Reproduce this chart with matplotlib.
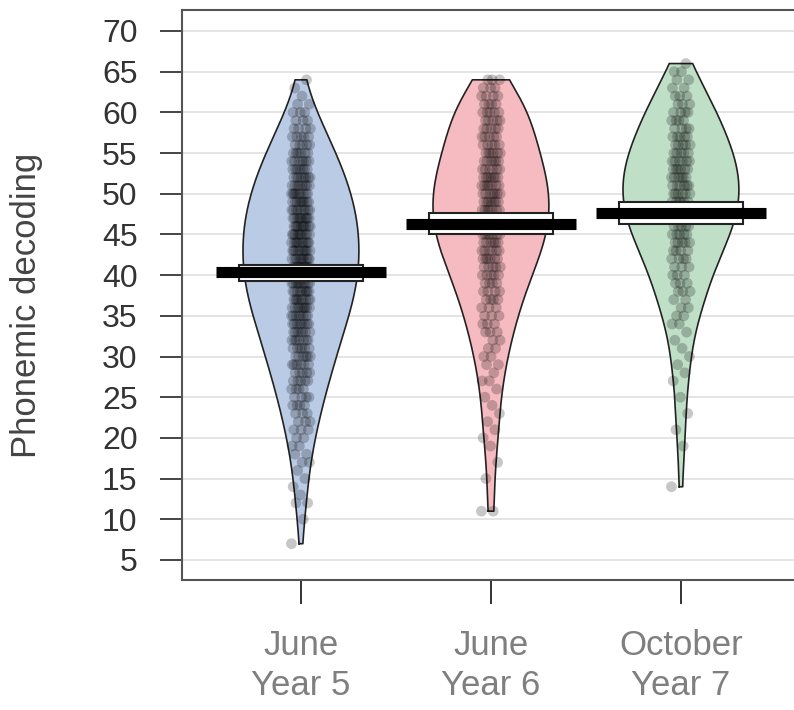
import numpy as np
import matplotlib
matplotlib.use("Agg")
import matplotlib.pyplot as plt
from matplotlib.patches import Rectangle

plt.rcParams['font.family'] = ['Liberation Sans', 'DejaVu Sans']

# groups on the x axis
groups = ['June\nYear 5', 'June\nYear 6', 'October\nYear 7']

# pupils per score (counted off the dots), starting at the lowest score
start5 = 7
counts5 = [1, 0, 0, 1, 0, 2, 1, 1, 1, 1, 2, 2, 2, 2,
           3, 3, 3, 4, 4, 4, 5, 5, 6, 6,
           6, 7, 7, 8, 8, 9, 9, 9, 10, 10,
           10, 10, 10, 10, 10, 10, 10, 9, 9, 9,
           8, 8, 7, 7, 6, 5, 5, 4, 3, 3, 2, 1, 1, 1]
start6 = 11
counts6 = [2, 0, 0, 0, 1, 0, 1, 0, 1, 1,
           1, 1, 1, 1, 1, 1, 2, 1, 2, 2,
           2, 2, 3, 3, 3, 3, 4, 4, 4, 5,
           5, 6, 6, 6, 7, 7, 7, 7, 7, 7,
           7, 7, 6, 6, 6, 5, 5, 5, 5, 5,
           4, 4, 3, 3]
start7 = 14
counts7 = [1, 0, 0, 0, 0, 1, 0, 1, 0, 1,
           0, 1, 0, 1, 1, 1, 1, 1, 1, 1,
           2, 2, 2, 2, 3, 3, 3, 3, 4, 4,
           5, 5, 5, 6, 6, 6, 6, 6, 6, 6,
           6, 5, 5, 5, 4, 4, 4, 3, 3, 2,
           2, 2, 1]

# mean line and inference band per group
means = [40.4, 46.3, 47.6]
band_lo = [39.3, 45.0, 46.3]
band_hi = [41.3, 47.6, 49.0]

bean_cols = ['#BACBE6', '#F6BBC0', '#BFDFC7']

starts = [start5, start6, start7]
counts = [counts5, counts6, counts7]

fig = plt.figure(figsize=(7.94, 7.10), dpi=100)
ax = fig.add_axes([182/794, 1 - 580/710, 1 - 182/794, 570/710])

for i in range(3):
    xc = i + 1
    sc = np.arange(starts[i], starts[i] + len(counts[i]))
    vals = np.repeat(sc, counts[i]).astype(float)
    n = len(vals)
    sd = vals.std(ddof=1)
    iqr = np.subtract(*np.percentile(vals, [75, 25]))
    bw = 0.9 * min(sd, iqr / 1.34) * n ** -0.2
    yy = np.linspace(vals.min(), vals.max(), 300)
    dens = np.exp(-0.5 * ((yy[:, None] - vals[None, :]) / bw) ** 2).sum(axis=1)
    w = dens / dens.max() * 0.305

    ax.fill_betweenx(yy, xc - w, xc + w, facecolor=bean_cols[i], edgecolor='none', zorder=2)
    px = np.concatenate([xc - w, (xc + w)[::-1], [xc - w[0]]])
    py = np.concatenate([yy, yy[::-1], [yy[0]]])
    ax.plot(px, py, color='#222222', lw=1.2, zorder=3)

    jit = (np.arange(n) * 0.618034 % 1 - 0.5) * 0.10
    ax.scatter(xc + jit, vals, s=60, color='black', alpha=0.22, edgecolor='none', zorder=3)

    ax.add_patch(Rectangle((xc - 0.325, band_lo[i]), 0.65, band_hi[i] - band_lo[i],
                           facecolor='white', edgecolor='#222222', lw=1.5, zorder=4))
    ax.hlines(means[i], xc - 0.447, xc + 0.447, color='black', lw=8, zorder=5)

ax.set_xlim(0.374, 3.595)
ax.set_ylim(2.54, 72.58)
ax.set_yticks(np.arange(5, 71, 5))
ax.set_xticks([1, 2, 3])
ax.set_xticklabels(groups, fontsize=25, color='#7f7f7f', linespacing=1.3)
ax.tick_params(axis='y', length=16, width=1.4, pad=16, labelsize=23,
               color='#444444', labelcolor='#333333')
ax.tick_params(axis='x', length=17, width=1.4, pad=18, color='#333333')
ax.yaxis.grid(True, color='#e4e4e4', lw=1.4)
ax.set_axisbelow(True)
for s in ['left', 'top', 'bottom']:
    ax.spines[s].set_color('#555555')
    ax.spines[s].set_linewidth(1.5)
ax.spines['right'].set_visible(False)

fig.text(27/794, 1 - 305/710, 'Phonemic decoding', rotation=90, fontsize=25,
         color='#444444', ha='center', va='center')

fig.savefig('out.png', dpi=100)
